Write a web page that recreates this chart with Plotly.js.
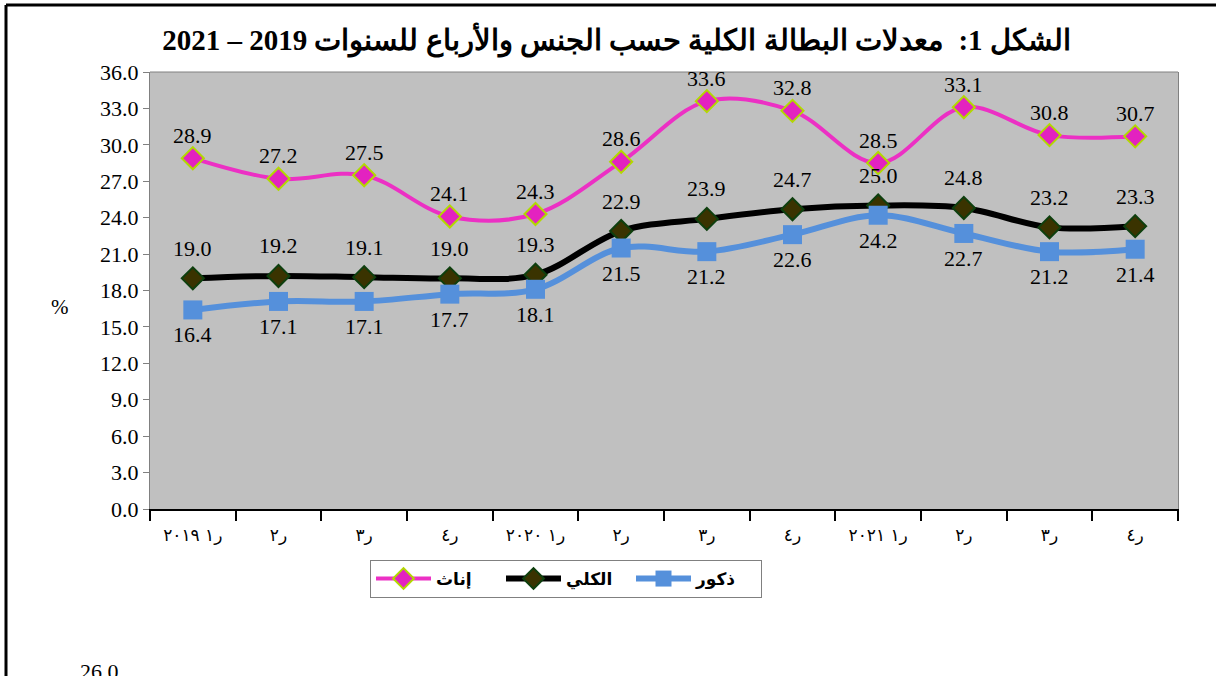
<!DOCTYPE html>
<html>
<head>
<meta charset="utf-8">
<script src="https://cdn.plot.ly/plotly-3.0.1.min.js"></script>
<style>html,body{margin:0;padding:0;background:#fff;}#chart{width:1216px;height:676px;}</style>
</head>
<body>
<div id="chart"></div>
<script>
var categories = ["2019-1","2019-2","2019-3","2019-4","2020-1","2020-2","2020-3","2020-4","2021-1","2021-2","2021-3","2021-4"];
var tickLabels = ["ر١ ٢٠١٩","ر٢","ر٣","ر٤","ر١ ٢٠٢٠","ر٢","ر٣","ر٤","ر١ ٢٠٢١","ر٢","ر٣","ر٤"];
var females = [28.9, 27.2, 27.5, 24.1, 24.3, 28.6, 33.6, 32.8, 28.5, 33.1, 30.8, 30.7];
var total   = [19.0, 19.2, 19.1, 19.0, 19.3, 22.9, 23.9, 24.7, 25.0, 24.8, 23.2, 23.3];
var males   = [16.4, 17.1, 17.1, 17.7, 18.1, 21.5, 21.2, 22.6, 24.2, 22.7, 21.2, 21.4];
var seriesNames = ["إناث", "الكلي", "ذكور"];
var titleText = "الشكل 1:  معدلات البطالة الكلية حسب الجنس والأرباع للسنوات 2019 – 2021";

var L = 150, R = 38, T = 72, B = 167, W = 1216, H = 676;
var pw = W - L - R, ph = H - T - B;
function px(x){ return (x - L) / pw; }
function py(y){ return (H - B - y) / ph; }
var SERIF = 'Times New Roman, Liberation Serif, Tinos, serif';

var traces = [
  {x: categories, y: females, name: seriesNames[0], type: 'scatter', mode: 'lines+markers',
   line: {color: '#EC30C4', width: 4, shape: 'spline', smoothing: 1},
   marker: {symbol: 'diamond', size: 17, color: '#E322C0', line: {color: '#B2D800', width: 2}}},
  {x: categories, y: total, name: seriesNames[1], type: 'scatter', mode: 'lines+markers',
   line: {color: '#000000', width: 6, shape: 'spline', smoothing: 1},
   marker: {symbol: 'diamond', size: 17, color: '#3A3300', line: {color: '#0E3F0E', width: 2}}},
  {x: categories, y: males, name: seriesNames[2], type: 'scatter', mode: 'lines+markers',
   line: {color: '#5590DB', width: 6, shape: 'spline', smoothing: 1},
   marker: {symbol: 'square', size: 19, color: '#5590DB'}}
];

var labelFont = {family: SERIF, size: 22, color: '#000'};
var annotations = [];
function addLabels(vals, shift){
  for (var i = 0; i < vals.length; i++){
    annotations.push({x: categories[i], y: vals[i], xref: 'x', yref: 'y', text: vals[i].toFixed(1),
      showarrow: false, yshift: shift, font: labelFont});
  }
}
addLabels(females, 23);
addLabels(total, 30);
addLabels(males, -25);
annotations.push({xref: 'paper', yref: 'paper', x: px(49), y: py(307), text: '%', showarrow: false,
  font: {family: SERIF, size: 21, color: '#000'}});
annotations.push({xref: 'paper', yref: 'paper', x: px(78), y: py(686), text: '26.0', showarrow: false,
  font: {family: SERIF, size: 22, color: '#000'}});

var layout = {
  width: W, height: H,
  margin: {l: L, r: R, t: T, b: B, pad: 0},
  paper_bgcolor: '#ffffff',
  plot_bgcolor: '#C0C0C0',
  showlegend: true,
  title: {text: '<b>' + titleText + '</b>', xref: 'container', x: 0.507, xanchor: 'center',
    yref: 'container', y: 1 - 40/H, yanchor: 'middle',
    font: {family: SERIF, size: 29, color: '#000'}},
  xaxis: {type: 'category', tickmode: 'array', tickvals: categories, ticktext: tickLabels,
    tickson: 'boundaries', ticks: 'outside', ticklen: 10, tickcolor: '#000', tickwidth: 2,
    showline: true, linecolor: '#000', linewidth: 2, showgrid: false, zeroline: false,
    range: [-0.5, 11.5], fixedrange: true, ticklabelstandoff: 10,
    tickfont: {family: 'DejaVu Sans', size: 17, color: '#000'}},
  yaxis: {range: [0, 36], dtick: 3, tick0: 0, tickformat: '.1f', ticks: 'outside', ticklen: 6,
    tickcolor: '#808080', showline: true, linecolor: '#808080', linewidth: 1, mirror: true,
    showgrid: false, zeroline: false,
    tickfont: {family: SERIF, size: 22, color: '#000'}},
  legend: {orientation: 'h', x: px(370), y: py(560), xanchor: 'left', yanchor: 'top',
    bgcolor: '#ffffff', bordercolor: '#808080', borderwidth: 1, traceorder: 'normal',
    entrywidth: 60, entrywidthmode: 'pixels', itemwidth: 55,
    font: {family: 'DejaVu Sans', size: 17, color: '#000', weight: 'bold'}},
  annotations: annotations,
  shapes: [
    {type: 'line', xref: 'paper', yref: 'paper', x0: 0, x1: 1, y0: 1, y1: 1, line: {color: '#808080', width: 1}},
    {type: 'line', xref: 'paper', yref: 'paper', x0: px(6), x1: px(1218), y0: py(5), y1: py(5), line: {color: '#000', width: 3}},
    {type: 'line', xref: 'paper', yref: 'paper', x0: px(6), x1: px(6), y0: py(5), y1: py(680), line: {color: '#000', width: 3}}
  ]
};

Plotly.newPlot('chart', traces, layout, {displayModeBar: false, staticPlot: true});
</script>
</body>
</html>
